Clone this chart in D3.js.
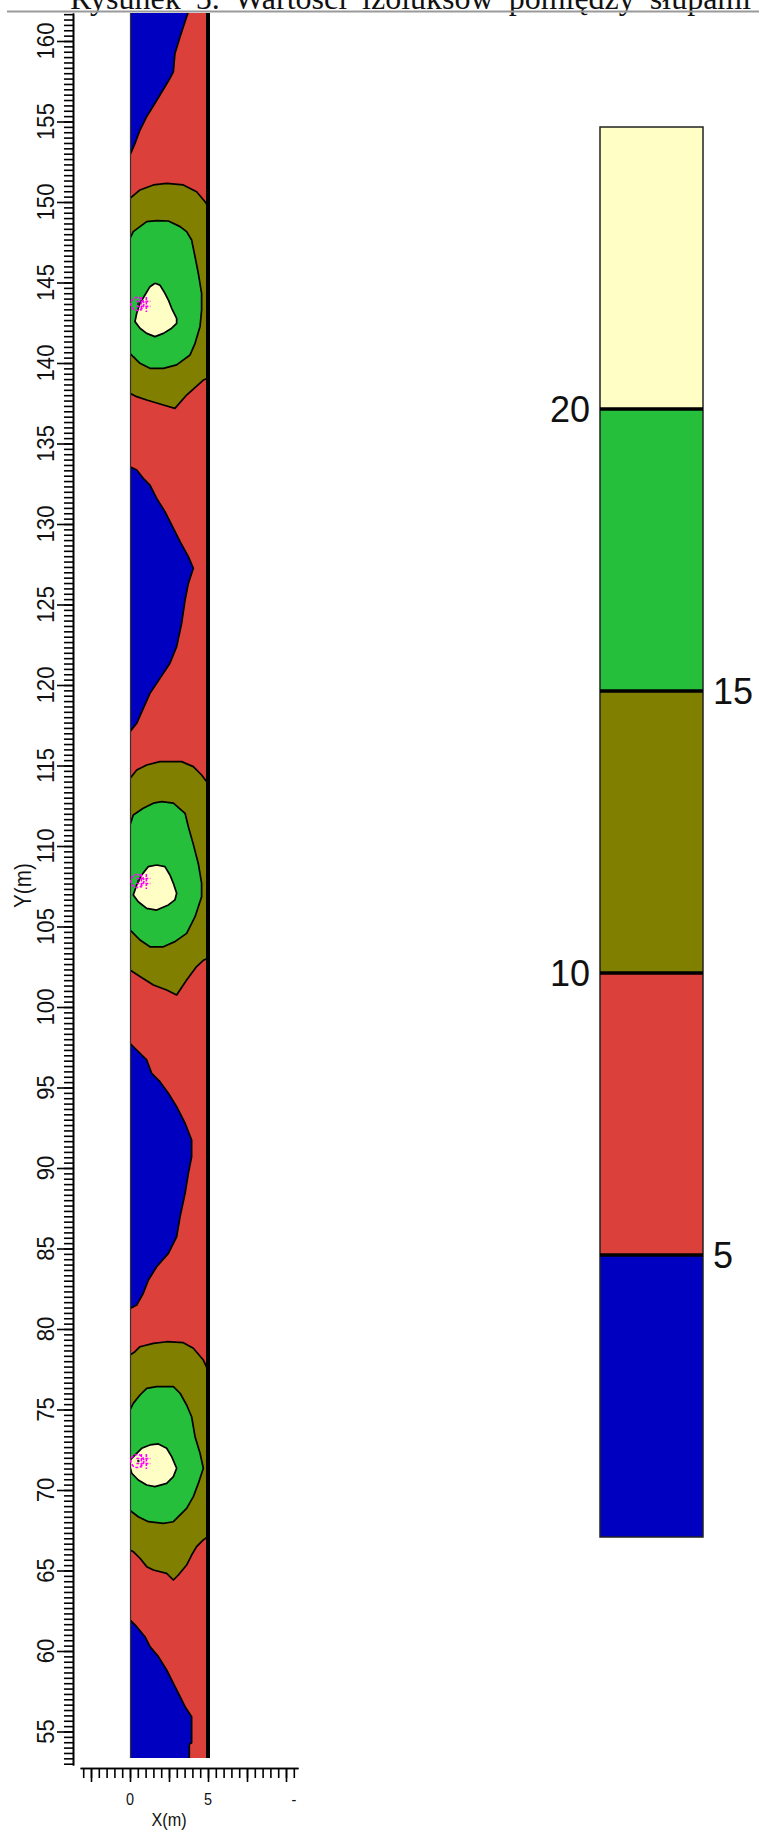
<!DOCTYPE html>
<html>
<head>
<meta charset="utf-8">
<script src="https://cdn.jsdelivr.net/npm/d3@7"></script>
<style>
  body { margin: 0; background: #fff; }
  svg { display: block; }
</style>
</head>
<body>
<div id="chart"></div>
<script>
// plot domain (metres)
const xMin = 0, xMax = 5
const T = 161.74, B = 53.35

// contour levels and band colours (lowest band first)
const levels = [5, 10, 15, 20]
const bandColors = ['#0000c0', '#db403b', '#807f00', '#26bf3c', '#fffec4']

const yTickValues = [55, 60, 65, 70, 75, 80, 85, 90, 95, 100, 105, 110, 115, 120, 125, 130, 135, 140, 145, 150, 155, 160]
const yTickLabels = yTickValues.map(String)
const xTickValues = [0, 5, 10.5]
const xTickLabels = ['0', '5', '-']

// pole positions
const poles = [[0.6, 143.67], [0.6, 107.83], [0.6, 71.8]]

// band < 5
const blueRegions = [
  [[0,T],[3.72,T],[3.63,161.51],[3.21,160.27],[2.88,159.23],[2.78,158.1],[2.56,157.68],[2.24,157.16],[1.6,156.13],[1.07,155.3],[0.64,154.47],[0.32,153.64],[0,152.92]],
  [[0,133.56],[0.43,133.35],[0.85,132.84],[1.28,132.42],[1.71,131.59],[2.24,130.77],[2.67,129.94],[3.21,128.9],[3.74,127.97],[4.06,127.25],[3.74,126.31],[3.53,125.28],[3.31,123.83],[2.99,122.38],[2.56,121.35],[1.92,120.41],[1.28,119.48],[0.85,118.55],[0.43,117.62],[0,117.1]],
  [[0,97.74],[0.43,97.33],[1.07,96.71],[1.39,95.88],[1.92,95.36],[2.46,94.64],[2.99,93.81],[3.53,92.78],[3.95,91.74],[3.95,90.7],[3.74,89.67],[3.53,88.42],[3.21,86.98],[2.99,85.73],[2.46,84.7],[1.71,83.87],[1.18,83.04],[0.85,82.22],[0.43,81.49],[0,81.28]],
  [[0,61.93],[0.43,61.51],[0.96,60.89],[1.28,60.27],[1.82,59.65],[2.35,58.82],[2.78,57.99],[3.21,57.16],[3.53,56.54],[3.95,55.92],[3.95,54.3],[3.8,54.2],[3.8,B],[0,B]]
]

// band 10-15
const oliveRegions = [
  [[0,150.23],[0.64,150.75],[1.5,151.06],[2.35,151.16],[3.42,151.06],[4.27,150.64],[4.81,150.02],[5,149.71],[5,139.05],[4.7,138.94],[3.63,138.01],[2.88,137.18],[2.14,137.39],[1.07,137.7],[0.43,137.91],[0,138.12]],
  [[0,114.2],[0.43,114.72],[1.07,115.03],[1.92,115.24],[3.31,115.24],[4.06,114.93],[4.59,114.41],[5,113.89],[5,103.03],[4.7,102.9],[4.27,102.51],[3.63,101.68],[2.99,100.75],[2.35,101.06],[1.5,101.37],[0.64,101.89],[0,102.3]],
  [[0,78.39],[0.32,78.59],[0.64,78.9],[1.5,79.11],[2.35,79.21],[3.42,79.15],[4.06,78.8],[4.7,78.07],[5,77.45],[5,67.1],[4.7,66.9],[4.27,66.48],[3.95,65.96],[3.63,65.34],[3.1,64.72],[2.78,64.41],[2.35,64.82],[1.5,65.03],[1.07,65.24],[0.64,65.76],[0.21,66.17],[0,66.27]]
]

// band 15-20
const greenRegions = [
  [[0,147.74],[0.21,148.16],[0.64,148.47],[1.07,148.78],[1.71,148.84],[2.46,148.82],[3.21,148.47],[3.63,148.16],[3.95,147.64],[4.17,146.6],[4.38,145.57],[4.59,144.33],[4.59,143.29],[4.49,142.26],[4.17,141.22],[3.85,140.5],[2.99,139.88],[2.14,139.67],[1.28,139.67],[0.64,139.98],[0.21,140.39],[0,140.6]],
  [[0,111.3],[0.21,111.93],[0.85,112.34],[1.5,112.66],[2.03,112.76],[2.78,112.66],[3.53,112.03],[3.74,111.2],[4.06,110.1],[4.38,108.9],[4.59,107.7],[4.59,106.85],[4.17,105.61],[3.63,104.57],[2.88,104.06],[2.14,103.74],[1.28,103.74],[0.64,104.16],[0.11,104.68],[0,104.78]],
  [[0,74.97],[0.21,75.38],[0.64,75.9],[1.07,76.31],[1.71,76.42],[2.78,76.42],[3.21,76.01],[3.63,75.28],[3.95,74.55],[4.17,73.31],[4.49,72.28],[4.7,71.35],[4.38,70.41],[4.06,69.59],[3.63,68.86],[2.78,68.03],[2.14,67.93],[1.18,68.03],[0.53,68.34],[0.11,68.65],[0,68.76]]
]

// band > 20
const yellowRegions = [
  [[1.6,144.95],[1.92,144.84],[2.24,144.33],[2.46,143.91],[2.67,143.4],[2.99,142.77],[2.99,142.46],[2.67,142.16],[2.14,141.84],[1.6,141.64],[1.07,141.84],[0.64,142.16],[0.32,142.57],[0.43,143.09],[0.64,143.71],[0.96,144.22],[1.28,144.74]],
  [[1.71,108.82],[2.24,108.72],[2.56,108.2],[2.78,107.68],[2.99,107.06],[2.88,106.65],[2.46,106.34],[1.71,106.02],[1.07,106.13],[0.53,106.54],[0.21,106.96],[0.43,107.58],[0.75,108.2],[1.17,108.72]],
  [[1.28,72.8],[1.82,72.86],[2.35,72.59],[2.67,72.07],[2.99,71.35],[2.78,70.83],[2.35,70.41],[1.6,70.21],[1.07,70.31],[0.53,70.62],[0.11,71.04],[0,71.45],[0,71.86],[0.32,72.17],[0.75,72.59]]
]

const width = 759, height = 1831

const svg = d3.select('#chart').append('svg')
  .attr('width', width)
  .attr('height', height)

svg.append('rect').attr('width', width).attr('height', height).attr('fill', '#fff')

const x = d3.scaleLinear().domain([0, 5]).range([130, 208])
const y = d3.scaleLinear().domain([55, 160]).range([1731.5, 41])

// title, cut at the top of the page as in the scan
svg.append('text')
  .attr('x', 70).attr('y', 9)
  .attr('font-family', 'Liberation Serif, Times New Roman, serif')
  .attr('font-size', 32)
  .attr('word-spacing', 7)
  .attr('fill', '#111')
  .text('Rysunek 5. Wartości izoluksów pomiędzy słupami')

svg.append('line')
  .attr('x1', 7).attr('x2', width)
  .attr('y1', 11.5).attr('y2', 11.5)
  .attr('stroke', '#9a9a9a').attr('stroke-width', 2)

// contour map
const plot = svg.append('g')

svg.append('clipPath').attr('id', 'plotClip')
  .append('rect')
  .attr('x', x(xMin)).attr('y', y(T))
  .attr('width', x(xMax) - x(xMin)).attr('height', y(B) - y(T))

plot.attr('clip-path', 'url(#plotClip)')

plot.append('rect')
  .attr('x', x(xMin)).attr('y', y(T))
  .attr('width', x(xMax) - x(xMin)).attr('height', y(B) - y(T))
  .attr('fill', bandColors[1])

const fillLine = d3.line().x(d => x(d[0])).y(d => y(d[1]))

const onEdge = (a, b) =>
  (a[0] === xMin && b[0] === xMin) || (a[0] === xMax && b[0] === xMax) ||
  (a[1] === T && b[1] === T) || (a[1] === B && b[1] === B)

// contour line only, leaving out the parts lying on the plot border
function contourPath(pts) {
  const p = d3.path()
  let pen = false
  for (let i = 0; i < pts.length; i++) {
    const a = pts[i], b = pts[(i + 1) % pts.length]
    if (onEdge(a, b)) { pen = false; continue }
    if (!pen) { p.moveTo(x(a[0]), y(a[1])); pen = true }
    p.lineTo(x(b[0]), y(b[1]))
  }
  return p.toString()
}

const layers = [
  { regions: blueRegions, color: bandColors[0] },
  { regions: oliveRegions, color: bandColors[2] },
  { regions: greenRegions, color: bandColors[3] },
  { regions: yellowRegions, color: bandColors[4] }
]

layers.forEach(layer => {
  const g = plot.append('g')
  g.selectAll('path.fill')
    .data(layer.regions)
    .join('path')
    .attr('class', 'fill')
    .attr('d', d => fillLine(d) + 'Z')
    .attr('fill', layer.color)
  g.selectAll('path.line')
    .data(layer.regions)
    .join('path')
    .attr('class', 'line')
    .attr('d', contourPath)
    .attr('fill', 'none')
    .attr('stroke', '#000')
    .attr('stroke-width', 1.7)
    .attr('stroke-linejoin', 'round')
})

// plot borders
svg.append('line')
  .attr('x1', x(xMin) + 0.5).attr('x2', x(xMin) + 0.5)
  .attr('y1', y(T)).attr('y2', y(B))
  .attr('stroke', '#333').attr('stroke-width', 1.2)
svg.append('line')
  .attr('x1', x(xMax)).attr('x2', x(xMax))
  .attr('y1', y(T)).attr('y2', y(B))
  .attr('stroke', '#000').attr('stroke-width', 4)

// pole markers
const pole = svg.append('g').selectAll('g')
  .data(poles)
  .join('g')
  .attr('transform', d => `translate(${x(d[0])},${y(d[1])})`)
  .attr('stroke', '#ff00ff')
  .attr('fill', 'none')
  .attr('stroke-width', 1.6)

pole.append('circle').attr('cx', -2).attr('r', 6.5).attr('stroke-dasharray', '3,1.5')
pole.append('path')
  .attr('d', 'M2,-7V7M7,-7V8M-3,-2.5H11M-3,2.5H11')
  .attr('stroke-dasharray', '3,1.5')
pole.append('circle').attr('cx', -1).attr('r', 1.3).attr('fill', '#222').attr('stroke', 'none')

// Y ruler
const yRuler = d3.scaleLinear().domain([52.92, 161.74]).range([y(52.92), y(161.74)])
const yMinor = d3.range(Math.ceil(52.92 * 3), Math.floor(161.74 * 3) + 1).map(k => k / 3)

const yAxisG = svg.append('g').attr('transform', 'translate(73,0)')
yAxisG.call(d3.axisLeft(yRuler).tickValues(yMinor).tickSize(9).tickSizeOuter(0).tickFormat(''))
yAxisG.append('g').call(d3.axisLeft(yRuler).tickValues(yTickValues).tickSize(16).tickSizeOuter(0).tickFormat(''))
yAxisG.selectAll('path, line').attr('stroke', '#000').attr('stroke-width', 1.6)

svg.append('g').selectAll('text')
  .data(yTickValues)
  .join('text')
  .attr('transform', d => `translate(54,${y(d)}) rotate(-90) scale(0.92,1)`)
  .attr('text-anchor', 'middle')
  .attr('font-family', 'Liberation Sans, Arial, sans-serif')
  .attr('font-size', 24)
  .attr('fill', '#111')
  .text((d, i) => yTickLabels[i])

svg.append('text')
  .attr('transform', `translate(31,${(y(T) + y(B)) / 2}) rotate(-90) scale(0.9,1)`)
  .attr('text-anchor', 'middle')
  .attr('font-family', 'Liberation Sans, Arial, sans-serif')
  .attr('font-size', 23)
  .attr('fill', '#111')
  .text('Y(m)')

// X ruler
const xRuler = d3.scaleLinear().domain([-3.2, 10.77]).range([x(-3.2), x(10.77)])
const xMinor = d3.range(-6, 22).map(k => k / 2)

const xAxisG = svg.append('g').attr('transform', 'translate(0,1768)')
xAxisG.call(d3.axisBottom(xRuler).tickValues(xMinor).tickSize(10).tickSizeOuter(0).tickFormat(''))
xAxisG.append('g').call(d3.axisBottom(xRuler).tickValues([-2.5, 0, 2.5, 5, 7.5, 10]).tickSize(14).tickSizeOuter(0).tickFormat(''))
xAxisG.selectAll('path, line').attr('stroke', '#000').attr('stroke-width', 1.6)

svg.append('g').selectAll('text')
  .data(xTickValues)
  .join('text')
  .attr('transform', d => `translate(${x(d)},1805) scale(0.85,1)`)
  .attr('text-anchor', 'middle')
  .attr('font-family', 'Liberation Sans, Arial, sans-serif')
  .attr('font-size', 17)
  .attr('fill', '#111')
  .text((d, i) => xTickLabels[i])

svg.append('text')
  .attr('transform', `translate(${(x(xMin) + x(xMax)) / 2},1826) scale(0.9,1)`)
  .attr('text-anchor', 'middle')
  .attr('font-family', 'Liberation Sans, Arial, sans-serif')
  .attr('font-size', 18)
  .attr('fill', '#111')
  .text('X(m)')

// colour legend
const legendScale = d3.scaleLinear().domain([0, 25]).range([1537, 127])
const legendX0 = 600, legendX1 = 703
const bandEdges = [0, ...levels, 25]

const legend = svg.append('g')
legend.selectAll('rect.band')
  .data(bandColors)
  .join('rect')
  .attr('class', 'band')
  .attr('x', legendX0)
  .attr('width', legendX1 - legendX0)
  .attr('y', (d, i) => legendScale(bandEdges[i + 1]))
  .attr('height', (d, i) => legendScale(bandEdges[i]) - legendScale(bandEdges[i + 1]))
  .attr('fill', d => d)

legend.append('rect')
  .attr('x', legendX0).attr('y', legendScale(25))
  .attr('width', legendX1 - legendX0)
  .attr('height', legendScale(0) - legendScale(25))
  .attr('fill', 'none')
  .attr('stroke', '#222')
  .attr('stroke-width', 1.5)

legend.selectAll('line.level')
  .data(levels)
  .join('line')
  .attr('class', 'level')
  .attr('x1', legendX0).attr('x2', legendX1)
  .attr('y1', d => legendScale(d)).attr('y2', d => legendScale(d))
  .attr('stroke', '#000')
  .attr('stroke-width', 3.5)

legend.selectAll('text')
  .data(levels)
  .join('text')
  .attr('x', (d, i) => i % 2 === 0 ? legendX1 + 10 : legendX0 - 10)
  .attr('y', d => legendScale(d))
  .attr('dy', '0.36em')
  .attr('text-anchor', (d, i) => i % 2 === 0 ? 'start' : 'end')
  .attr('font-family', 'Liberation Sans, Arial, sans-serif')
  .attr('font-size', 36)
  .attr('fill', '#111')
  .text(d => d)
</script>
</body>
</html>
